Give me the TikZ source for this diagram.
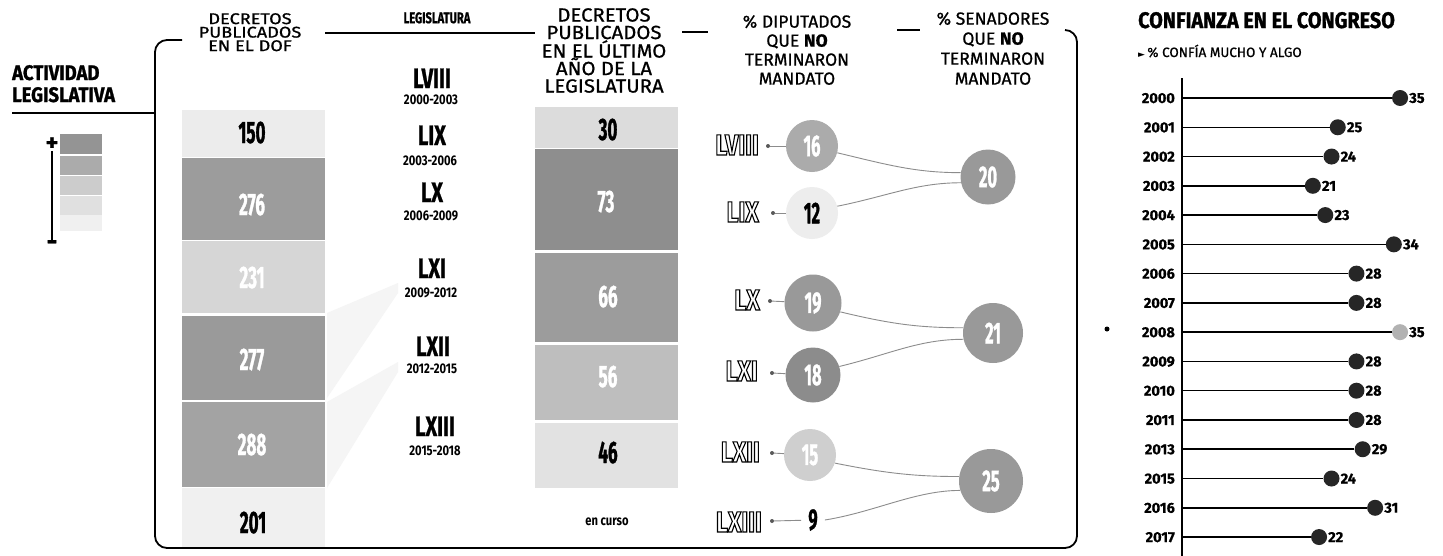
\documentclass[tikz,border=0pt]{standalone}
\usepackage{fontspec}
\setmainfont{Fira Sans}
\newfontfamily\hdf[FakeBold=0.8]{Fira Sans}
\newfontfamily\wdf[FakeBold=0.8,FakeStretch=1.17]{Fira Sans}
\newfontfamily\wdg[FakeBold=0.8,FakeStretch=1.07]{Fira Sans}
\newfontfamily\cnf[FakeStretch=0.55,FakeBold=1]{Fira Sans}
\newfontfamily\rnf[FakeStretch=0.72,FakeBold=0.8]{Fira Sans}
\newfontfamily\yrf[FakeStretch=0.8]{Fira Sans}
\newfontfamily\ttf[FakeStretch=0.88,FakeBold=1.2]{Fira Sans}
\newfontfamily\dvf{DejaVu Sans}
\newcommand\outl[1]{\special{pdf:literal direct 1 Tr 1.1 w}#1\special{pdf:literal direct 0 Tr}}
\definecolor{cA}{HTML}{ECECEC}
\definecolor{cB}{HTML}{9C9C9C}
\definecolor{cC}{HTML}{D6D6D6}
\definecolor{cD}{HTML}{9A9A9A}
\definecolor{cE}{HTML}{A3A3A3}
\definecolor{cF}{HTML}{F0F0F0}
\definecolor{kA}{HTML}{DCDCDC}
\definecolor{kB}{HTML}{8E8E8E}
\definecolor{kC}{HTML}{9C9C9C}
\definecolor{kD}{HTML}{BEBEBE}
\definecolor{kE}{HTML}{E2E2E2}
\tikzset{
 cell/.style={rectangle, draw=none, inner sep=0pt, minimum width=143pt},
 num/.style={font=\cnf\bfseries\fontsize{31}{31}\selectfont, inner sep=0pt, anchor=base},
 rom/.style={font=\rnf\bfseries\fontsize{28}{28}\selectfont, inner sep=0pt, anchor=base},
 yrs/.style={font=\yrf\bfseries\fontsize{14}{14}\selectfont, inner sep=0pt, anchor=base},
 hdr/.style={align=center, inner sep=0pt, anchor=north},
 olab/.style={font=\yrf\bfseries\fontsize{29}{29}\selectfont, inner sep=0pt, anchor=base east},
 ddot/.style={circle, fill=black!65, minimum size=4pt, inner sep=0pt},
 dcirc/.style={circle, inner sep=0pt, font=\cnf\bfseries\fontsize{30}{30}\selectfont},
 lnk/.style={draw=black!45, line width=0.9pt},
 frm/.style={line width=1.8pt, black},
 yr/.style={font=\hdf\bfseries\fontsize{14.5}{14.5}\selectfont, inner sep=0pt, anchor=base east},
 val/.style={font=\hdf\bfseries\fontsize{14.5}{14.5}\selectfont, inner sep=0pt, anchor=west},
 cdot/.style={circle, minimum size=16pt, inner sep=0pt},
}
\begin{document}
\begin{tikzpicture}[x=1pt,y=-1pt]
\useasboundingbox[fill=white] (0,0) rectangle (1443,555);

% ---------- left title and legend
\node[font=\ttf\bfseries\fontsize{21}{21}\selectfont, inner sep=0pt, anchor=base west] (act1) at (12,80) {ACTIVIDAD};
\node[font=\ttf\bfseries\fontsize{21}{21}\selectfont, inner sep=0pt, anchor=base west] (act2) at (12,102) {LEGISLATIVA};
\draw[line width=1.5pt] (12,113) -- (155,113);

\node[cell, minimum width=42pt, minimum height=20pt, fill=black!42] (sq1) at (81,144) {};
\node[cell, minimum width=42pt, minimum height=19pt, fill=black!33] (sq2) at (81,165) {};
\node[cell, minimum width=42pt, minimum height=19pt, fill=black!20] (sq3) at (81,185) {};
\node[cell, minimum width=42pt, minimum height=19pt, fill=black!12] (sq4) at (81,205) {};
\node[cell, minimum width=42pt, minimum height=16pt, fill=black!6] (sq5) at (81,223) {};
\node[font=\hdf\bfseries\fontsize{24}{24}\selectfont, inner sep=0pt] (plus) at (52,144) {+};
\node[font=\hdf\bfseries\fontsize{26}{26}\selectfont, inner sep=0pt] (minus) at (52,245) {-};
\draw[line width=1.5pt] (plus) -- (minus);

% ---------- faint wedges
\fill[black!4] (327,313) -- (398,283) -- (398,293) -- (327,398) -- cycle;
\fill[black!4] (327,402) -- (398,362) -- (398,372) -- (327,488) -- cycle;

% ---------- column 1 boxes
\node[cell, fill=cA, minimum height=47pt] (b1) at (253.5,133.5) {};
\node[cell, fill=cB, minimum height=82pt] (b2) at (253.5,198.5) {};
\node[cell, fill=cC, minimum height=72pt] (b3) at (253.5,277) {};
\node[cell, fill=cD, minimum height=84pt] (b4) at (253.5,357.5) {};
\node[cell, fill=cE, minimum height=85pt] (b5) at (253.5,444.5) {};
\node[cell, fill=cF, minimum height=60pt] (b6) at (253.5,518) {};
\node[num] (n1) at (252,143) {150};
\node[num, text=white] (n2) at (252,215) {276};
\node[num, text=white] (n3) at (252,288) {231};
\node[num, text=white] (n4) at (252,370) {277};
\node[num, text=white] (n5) at (252,455) {288};
\node[num] (n6) at (253,533) {201};

% ---------- column 2 legislaturas
\node[rom] (r1) at (432,88) {LVIII};
\node[yrs] (y1) at (431,104) {2000-2003};
\node[rom] (r2) at (432,145) {LIX};
\node[yrs] (y2) at (430,165) {2003-2006};
\node[rom] (r3) at (432,202) {LX};
\node[yrs] (y3) at (431,220) {2006-2009};
\node[rom] (r4) at (432,278) {LXI};
\node[yrs] (y4) at (431,297) {2009-2012};
\node[rom] (r5) at (433,356) {LXII};
\node[yrs] (y5) at (432,373) {2012-2015};
\node[rom] (r6) at (435,436) {LXIII};
\node[yrs] (y6) at (435,455) {2015-2018};

% ---------- column 3 boxes
\node[cell, fill=kA, minimum height=41pt] (k1) at (606.5,127.5) {};
\node[cell, fill=kB, minimum height=101pt] (k2) at (606.5,199) {};
\node[cell, fill=kC, minimum height=89pt] (k3) at (606.5,297) {};
\node[cell, fill=kD, minimum height=75pt] (k4) at (606.5,382.5) {};
\node[cell, fill=kE, minimum height=65pt] (k5) at (606.5,455.5) {};
\node[num] (m1) at (608,140) {30};
\node[num, text=white] (m2) at (606,212) {73};
\node[num, text=white] (m3) at (608,307) {66};
\node[num, text=white] (m4) at (608,387) {56};
\node[num] (m5) at (608,463) {46};
\node[font=\yrf\bfseries\fontsize{14}{14}\selectfont, inner sep=0pt, anchor=base] (enc) at (607,525) {en curso};

% ---------- diputados
\node[olab] (l1) at (759,155) {\outl{LVIII}};
\node[olab] (l2) at (759,222) {\outl{LIX}};
\node[olab] (l3) at (760,310) {\outl{LX}};
\node[olab] (l4) at (758,381) {\outl{LXI}};
\node[olab] (l5) at (760,462) {\outl{LXII}};
\node[olab] (l6) at (762,532) {\outl{LXIII}};
\node[ddot] (p1) at (768,146) {};
\node[ddot] (p2) at (773,213) {};
\node[ddot] (p3) at (770,301) {};
\node[ddot] (p4) at (772,373) {};
\node[ddot] (p5) at (772,453) {};
\node[ddot] (p6) at (772,521) {};
\node[dcirc, fill=black!33, minimum size=52pt, text=white] (d16) at (812,146) {16};
\node[dcirc, fill=black!7, minimum size=52pt] (d12) at (812,213) {12};
\node[dcirc, fill=black!40, minimum size=57pt, text=white] (d19) at (813,303) {19};
\node[dcirc, fill=black!45, minimum size=55pt, text=white] (d18) at (813,375) {18};
\node[dcirc, fill=black!19, minimum size=52pt, text=white] (d15) at (810,455) {15};
\node[dcirc, minimum size=22pt] (d9) at (813,520) {9};
\draw[lnk] (p1) -- (d16);
\draw[lnk] (p2) -- (d12);
\draw[lnk] (p3) -- (d19);
\draw[lnk] (p4) -- (d18);
\draw[lnk] (p5) -- (d15);
\draw[lnk] (p6) -- (d9);

% ---------- senadores
\node[dcirc, fill=black!40, minimum size=55pt, text=white] (s20) at (988,177) {20};
\node[dcirc, fill=black!40, minimum size=60pt, text=white] (s21) at (993,333) {21};
\node[dcirc, fill=black!40, minimum size=64pt, text=white] (s25) at (991,481) {25};
\draw[lnk] (d16.-15) .. controls +(50,12) and +(-45,0) .. (s20.171);
\draw[lnk] (d12.15) .. controls +(50,-10) and +(-45,0) .. (s20.192);
\draw[lnk] (d19.-18) .. controls +(50,12) and +(-45,0) .. (s21.170);
\draw[lnk] (d18.18) .. controls +(50,-12) and +(-45,0) .. (s21.192);
\draw[lnk] (d15.-18) .. controls +(50,10) and +(-45,0) .. (s25.172);
\draw[lnk] (d9.east) .. controls +(50,-8) and +(-45,0) .. (s25.197);

% ---------- headers
\node[hdr, font=\wdf\fontsize{15.5}{13.5}\selectfont] (h1) at (250,13) {DECRETOS\\PUBLICADOS\\EN EL DOF};
\node[hdr, font=\rnf\bfseries\fontsize{15.5}{15.5}\selectfont] (h2) at (437,12) {LEGISLATURA};
\node[hdr, font=\wdg\fontsize{19}{17.5}\selectfont] (h3) at (604,8) {DECRETOS\\PUBLICADOS\\EN EL ÚLTIMO\\AÑO DE LA\\LEGISLATURA};
\node[hdr, font=\hdf\fontsize{17.5}{19}\selectfont] (h4) at (797,15) {\% DIPUTADOS\\QUE \textbf{NO}\\TERMINARON\\MANDATO};
\node[hdr, font=\hdf\fontsize{17.5}{20}\selectfont] (h5) at (993,12) {\% SENADORES\\QUE \textbf{NO}\\TERMINARON\\MANDATO};

% ---------- frame
\coordinate (fA) at (182,40);
\coordinate (fB) at (1065,30);
\draw[frm, rounded corners=12pt] (fA) -- (155,40) -- (155,548) -- (1077,548) -- (1077,30) -- (fB);
\draw[frm] (325,33) -- (535,33);
\draw[frm] (682,32) -- (708,32);
\draw[frm] (897,30) -- (920,30);

\node[circle, fill=black, minimum size=5pt, inner sep=0pt] (spk) at (1107,329) {};

% ---------- right chart
\node[font=\ttf\bfseries\fontsize{22.5}{22.5}\selectfont, inner sep=0pt, anchor=base west] (ttl) at (1138,28) {CONFIANZA EN EL CONGRESO};
\node[font=\hdf\fontsize{13.5}{13.5}\selectfont, inner sep=0pt, anchor=base west] (sub) at (1138,57) {{\dvf\fontsize{9}{9}\selectfont ►}\,\% CONFÍA MUCHO Y ALGO};
\coordinate (axT) at (1182,78);
\coordinate (axB) at (1182,556);
\draw[line width=2pt] (axT) -- (axB);
\foreach \yr/\v/\c [count=\i from 0] in {2000/35/black!85,2001/25/black!85,2002/24/black!85,2003/21/black!85,2004/23/black!85,2005/34/black!85,2006/28/black!85,2007/28/black!85,2008/35/black!30,2009/28/black!85,2010/28/black!85,2011/28/black!85,2013/29/black!85,2015/24/black!85,2016/31/black!85,2017/22/black!85}{
  \pgfmathsetmacro\yy{98+29.27*\i}
  \pgfmathsetmacro\xx{1182+6.23*\v}
  \coordinate (ax\i) at (1182,\yy);
  \node[yr] (yl\i) at (1175,{\yy+5}) {\yr};
  \node[cdot, fill=\c] (cd\i) at (\xx,\yy) {};
  \node[val] (vl\i) at ({\xx+9},\yy) {\v};
  \draw[line width=1.5pt] (ax\i) -- (cd\i);
}
\end{tikzpicture}
\end{document}
